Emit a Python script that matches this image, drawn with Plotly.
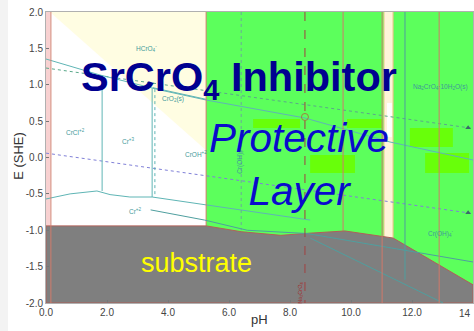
import plotly.graph_objects as go

# ---------------- data (pH, E vs SHE) ----------------
# HCrO4- stability wedge (light yellow)
hcro4_ph = [0.13, 5.25, 5.25]
hcro4_e = [2.0, 2.0, 0.10]

# protective (green) domains
green1_ph = [5.25, 11.08, 11.08, 5.25]
green1_e = [2.0, 2.0, -1.25, -1.25]
green2_ph = [11.38, 14.0, 14.0, 11.38]
green2_e = [2.0, 2.0, -1.9, -1.9]
strip_ph = [11.08, 11.38, 11.38, 11.08]
strip_e = [2.0, 2.0, -1.2, -1.2]
gap_ph = [11.18, 11.34, 11.34, 11.18]
gap_e = [0.75, 0.75, 0.28, 0.28]

# bright lime patches
lime_ph0 = [6.79, 9.87, 11.93, 8.66, 12.43]
lime_ph1 = [8.33, 11.02, 13.34, 10.13, 13.87]
lime_e0 = [0.405, 0.405, 0.144, -0.213, -0.213]
lime_e1 = [0.53, 0.53, 0.405, 0.034, 0.062]

# metal substrate (immunity) region
substrate_ph = [0, 5.25, 6.4, 7.7, 8.65, 9.8, 11.38, 14, 14, 0]
substrate_e = [-0.94, -0.94, -1.02, -1.07, -1.04, -1.01, -1.107, -1.75, -2.0, -2.0]

# water stability lines
o2_ph = [0, 14]
o2_e = [1.23, 0.40]
h2_ph = [0, 14]
h2_e = [0.06, -0.77]
marker_ph = [13.84, 13.84]
marker_e = [0.41, -0.76]

# chromium species boundaries (teal)
b1_ph = [0, 1.77, 3.74, 5.25, 8.49, 11.28, 14.0]
b1_e = [1.354, 1.134, 0.928, 0.79, 0.543, 0.213, -0.034]
b2_ph = [0, 0.79, 1.67, 2.10, 2.75, 3.48]
b2_e = [-0.57, -0.50, -0.46, -0.51, -0.543, -0.543]
b3_ph = [3.48, 8.66]
b3_e = [-0.543, -0.86]
b4_ph = [3.43, 5.2, 6.6, 8.56, 14.0]
b4_e = [-0.72, -0.86, -1.0, -1.045, -1.436]
b5_ph = [8.66, 13.02]
b5_e = [-1.107, -2.0]
b6_ph = [11.77, 11.77]
b6_e = [2.0, -1.68]
v1_ph = [1.84, 1.84]
v1_e = [1.13, -0.46]
v2_ph = [3.48, 3.48]
v2_e = [0.95, -0.543]
v3_ph = [3.57, 3.57]
v3_e = [0.94, -0.54]
v4_ph = [6.4, 6.4]
v4_e = [2.0, -1.0]
cro2_ph = [3.5, 5.25]
cro2_e = [0.96, 0.80]

# red phase lines
red_full_ph = [0.16, 11.02, 12.89]
red_part_ph = [5.25, 9.74]
red_part_e_low = [-0.94, -1.01]
nacro4_ph = [8.49, 8.49]
nacro4_e = [2.0, -2.0]
circle_ph = [8.49]
circle_e = [0.557]

# species labels
lab_text = ["HCrO<sub>4</sub><sup>-</sup>", "CrO<sub>2</sub>(s)", "CrCl<sup>+2</sup>",
            "Cr<sup>+3</sup>", "Cr<sup>+2</sup>", "CrOH<sup>+2</sup>",
            "Na<sub>2</sub>CrO<sub>4</sub>·10H<sub>2</sub>O(s)", "Cr(OH)<sub>4</sub><sup>-</sup>"]
lab_ph = [3.28, 4.15, 0.98, 2.72, 2.92, 4.92, 12.92, 12.92]
lab_e = [1.50, 0.80, 0.35, 0.227, -0.735, 0.05, 0.97, -1.04]

x_tickvals = [0, 2, 4, 6, 8, 10, 12, 14]
x_ticktext = ["0.0", "2.0", "4.0", "6.0", "8.0", "10.0", "12.0", ""]
x_last_label = "14"
y_tickvals = [2.0, 1.5, 1.0, 0.5, 0.0, -0.5, -1.0, -1.5, -2.0]
y_ticktext = ["2.0", "1.5", "1.0", "0.5", "0.0", "-0.5", "-1.0", "-1.5", "-2.0"]

FONT = "Liberation Sans, Arial, sans-serif"
TEAL = "#5fb5b5"
RED = "#d07a6a"

fig = go.Figure()


def poly(xs, ys, fill, line="rgba(0,0,0,0)", lw=0):
    fig.add_trace(go.Scatter(x=xs + xs[:1], y=ys + ys[:1], mode="lines", fill="toself",
                             fillcolor=fill, line=dict(color=line, width=lw),
                             hoverinfo="skip"))


def line(xs, ys, color, width=1, dash="solid"):
    fig.add_trace(go.Scatter(x=xs, y=ys, mode="lines",
                             line=dict(color=color, width=width, dash=dash),
                             hoverinfo="skip"))


# pink band at left
poly([0, 0.13, 0.13, 0], [2.0, 2.0, -2.0, -2.0], "rgba(245,190,190,0.7)")
poly(hcro4_ph, hcro4_e, "#fffde2")
poly(green1_ph, green1_e, "#5cff5c")
poly(green2_ph, green2_e, "#5cff5c")
poly(strip_ph, strip_e, "#fff4da")
poly(gap_ph, gap_e, "#ffffff")
line([11.08, 11.08], [2.0, -1.1], "#e3c07e")
line([11.38, 11.38], [2.0, -1.1], "#e3c07e")
for a, b, c, d in zip(lime_ph0, lime_ph1, lime_e0, lime_e1):
    poly([a, b, b, a], [c, c, d, d], "#68ff0a")

# water lines
line(o2_ph, o2_e, "#5aa88a", 1, "dot")
line(h2_ph, h2_e, "#8080d8", 1, "dot")

# teal boundaries above substrate
for xs, ys in [(b1_ph, b1_e), (b2_ph, b2_e), (b3_ph, b3_e), (v1_ph, v1_e),
               (v2_ph, v2_e), (cro2_ph, cro2_e)]:
    line(xs, ys, TEAL, 1)
line(v3_ph, v3_e, TEAL, 1, "dot")
line(v4_ph, v4_e, "#6aaa9a", 1, "dot")

# partial red lines
for p, lo in zip(red_part_ph, red_part_e_low):
    line([p, p], [2.0, lo], RED, 1)

# substrate
poly(substrate_ph, substrate_e, "#7f7f7f", "#b06058", 1)

# lines drawn over substrate
for xs, ys in [(b4_ph, b4_e), (b5_ph, b5_e), (b6_ph, b6_e)]:
    line(xs, ys, "#4f9f9f", 1)
for p in red_full_ph:
    line([p, p], [2.0, -2.0], RED, 1)
line(nacro4_ph, nacro4_e, "#a04040", 1, "dash")
fig.add_trace(go.Scatter(x=circle_ph, y=circle_e, mode="markers",
                         marker=dict(symbol="circle-open", size=7, color="#a08040",
                                     line=dict(width=1)), hoverinfo="skip"))
fig.add_trace(go.Scatter(x=marker_ph, y=marker_e, mode="markers",
                         marker=dict(symbol="triangle-up", size=5, color="#3a6a6a"),
                         hoverinfo="skip"))

annotations = []
for t, x, y in zip(lab_text, lab_ph, lab_e):
    annotations.append(dict(x=x, y=y, text=t, showarrow=False,
                            font=dict(family=FONT, size=6.5, color="#3f9a9a")))
annotations.append(dict(x=6.36, y=-0.06, text="Cr(OH)<sub>3</sub>", textangle=-90,
                        showarrow=False, font=dict(family=FONT, size=6.5, color="#3f9a9a")))
annotations.append(dict(x=8.36, y=-1.86, text="Na<sub>2</sub>CrO<sub>4</sub>", textangle=-90,
                        showarrow=False, font=dict(family=FONT, size=5.5, color="#a03030")))

# overlay titles
annotations.append(dict(x=6.32, y=1.066, text="<b>SrCrO<sub>4</sub> Inhibitor</b>",
                        showarrow=False, xanchor="center", yanchor="middle", borderpad=0,
                        font=dict(family=FONT, size=41.5, color="#000090")))
annotations.append(dict(x=8.28, y=-0.09, text="<i>Protective<br>Layer</i>",
                        showarrow=False, xanchor="center", yanchor="middle",
                        font=dict(family=FONT, size=40.5, color="#0a0acc")))
annotations.append(dict(x=4.92, y=-1.445, text="substrate",
                        showarrow=False, xanchor="center", yanchor="middle",
                        font=dict(family=FONT, size=27, color="#ffff00")))

# last x tick label (clipped at right edge in the reference)
annotations.append(dict(x=14, xref="x", yref="paper", y=0, yshift=-3, text=x_last_label,
                        showarrow=False, xanchor="right", yanchor="top",
                        font=dict(family=FONT, size=10, color="#444")))

# axis titles
annotations.append(dict(xref="paper", yref="paper", x=0.501, y=-0.058, text="pH",
                        showarrow=False, yanchor="middle",
                        font=dict(family=FONT, size=13, color="#333333")))
annotations.append(dict(xref="paper", yref="paper", x=-0.066, y=0.505, text="E (SHE)",
                        textangle=-90, showarrow=False, xanchor="center",
                        font=dict(family=FONT, size=13, color="#333333")))

shapes = [dict(type="rect", xref="paper", yref="paper", x0=-0.1077, x1=-0.089,
               y0=-0.1, y1=1.05, fillcolor="#f3f3f3", line=dict(width=0), layer="below")]

fig.update_layout(
    width=474, height=331,
    margin=dict(l=46, r=1, t=12, b=28, autoexpand=False),
    paper_bgcolor="white", plot_bgcolor="white",
    showlegend=False,
    font=dict(family=FONT),
    annotations=annotations,
    shapes=shapes,
    xaxis=dict(range=[0, 14], tickvals=x_tickvals, ticktext=x_ticktext,
               ticks="inside", ticklen=3, tickcolor="#777", showline=True,
               linecolor="#b0b0b0", mirror=True, showgrid=False, zeroline=False,
               tickfont=dict(size=10, color="#444")),
    yaxis=dict(range=[-2, 2], tickvals=y_tickvals, ticktext=y_ticktext,
               ticks="inside", ticklen=3, tickcolor="#777", showline=True,
               linecolor="#b0b0b0", mirror=True, showgrid=False, zeroline=False,
               tickfont=dict(size=10, color="#444")),
)

# remove the default 8px page margin so the 474x331 figure fills the window exactly
fig.write_html("out.html",
               config={"displayModeBar": False},
               post_script="document.body.style.margin='0';"
                           "document.body.style.overflow='hidden';")
